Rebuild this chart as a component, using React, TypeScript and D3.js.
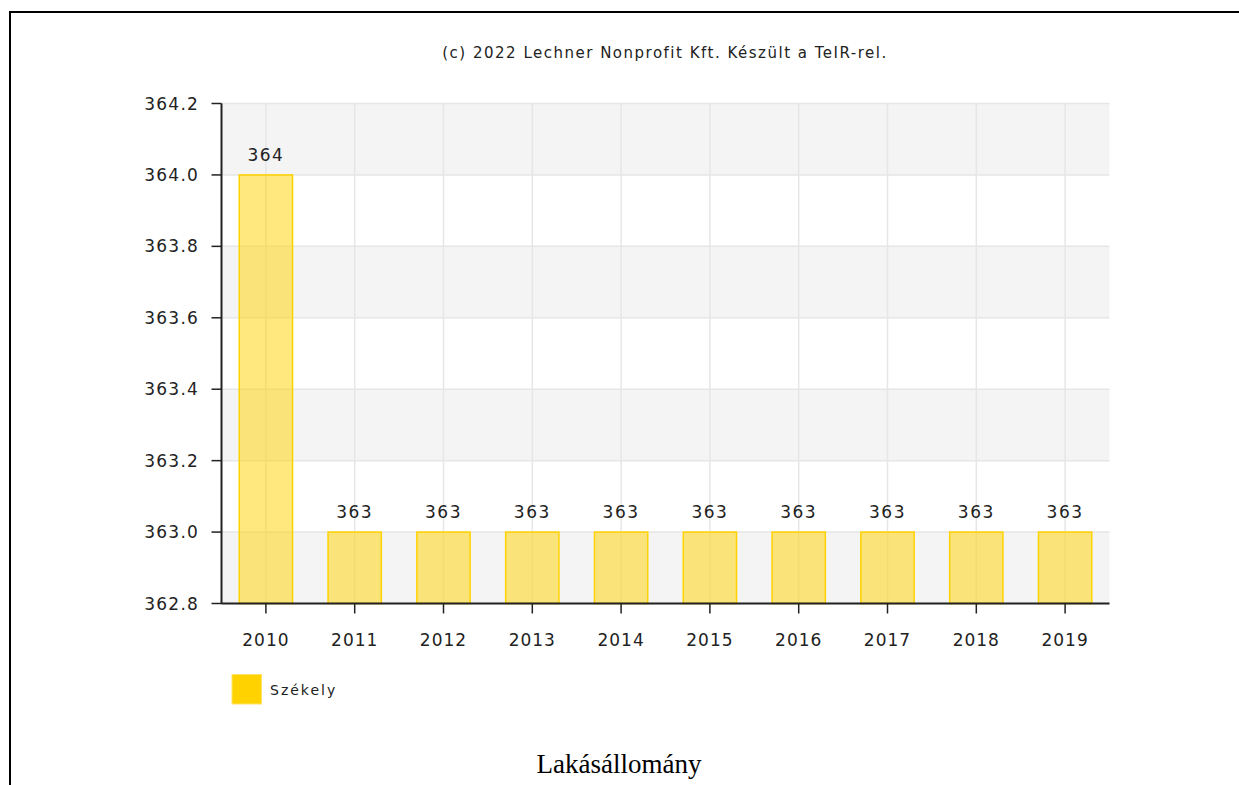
import React from "react";
import * as d3 from "d3";

const years = ["2010", "2011", "2012", "2013", "2014", "2015", "2016", "2017", "2018", "2019"];
const values = [364, 363, 363, 363, 363, 363, 363, 363, 363, 363];
const yTicks = [362.8, 363.0, 363.2, 363.4, 363.6, 363.8, 364.0, 364.2];
const seriesName = "Székely";
const credit = "(c) 2022 Lechner Nonprofit Kft. Készült a TeIR-rel.";
const title = "Lakásállomány";

const W = 1239;
const H = 785;
const left = 221.5;
const right = 1109.5;
const top = 103.5;
const bottom = 603.5;
const font = "'DejaVu Sans', Verdana, sans-serif";

export default function App() {
  const x = d3.scaleBand<string>().domain(years).range([left, right]).paddingInner(0.4).paddingOuter(0.2);
  const y = d3.scaleLinear().domain([362.8, 364.2]).range([bottom, top]);
  const bands = yTicks.slice(0, -1).map((t, i) => ({ t0: t, t1: yTicks[i + 1], i }));
  const centers = years.map((yr) => (x(yr) as number) + x.bandwidth() / 2);

  return (
    <div style={{ position: "absolute", left: 0, top: 0 }}>
      <svg width={W} height={H} style={{ display: "block" }}>
        <rect x={0} y={0} width={W} height={H} fill="#fff" />
        {/* outer frame */}
        <line x1={10} y1={12} x2={W} y2={12} stroke="#000" strokeWidth={2} />
        <line x1={10} y1={11} x2={10} y2={H} stroke="#000" strokeWidth={2} />

        <text x={665} y={58} textAnchor="middle" fontFamily={font} fontSize={15} letterSpacing={1.5} fill="#222">
          {credit}
        </text>

        {/* alternating bands */}
        {bands.map((b) => (
          <rect
            key={b.i}
            x={left}
            y={y(b.t1)}
            width={right - left}
            height={y(b.t0) - y(b.t1)}
            fill={b.i % 2 === 0 ? "#f4f4f4" : "#ffffff"}
          />
        ))}
        {/* horizontal grid */}
        {yTicks.map((t) => (
          <line key={t} x1={left} x2={right} y1={y(t)} y2={y(t)} stroke="#e6e6e6" strokeWidth={1.5} />
        ))}
        {/* vertical grid */}
        {centers.map((c, i) => (
          <line key={i} x1={c} x2={c} y1={top} y2={bottom} stroke="#e6e6e6" strokeWidth={1.5} />
        ))}

        {/* bars */}
        {years.map((yr, i) => (
          <rect
            key={yr}
            x={x(yr)}
            y={y(values[i])}
            width={x.bandwidth()}
            height={bottom - y(values[i])}
            fill="rgba(255,212,0,0.5)"
            stroke="#ffd200"
            strokeWidth={1.5}
          />
        ))}
        {/* value labels */}
        {years.map((yr, i) => (
          <text
            key={yr}
            x={centers[i]}
            y={y(values[i]) - 14}
            textAnchor="middle"
            fontFamily={font}
            fontSize={17}
            letterSpacing={1.5}
            fill="#222"
          >
            {d3.format("d")(values[i])}
          </text>
        ))}

        {/* axes */}
        <line x1={left} x2={left} y1={top} y2={bottom + 0.5} stroke="#222" strokeWidth={2} />
        <line x1={left} x2={right} y1={bottom} y2={bottom} stroke="#222" strokeWidth={2} />
        {yTicks.map((t) => (
          <g key={t}>
            <line x1={left - 10} x2={left} y1={y(t)} y2={y(t)} stroke="#222" strokeWidth={1.5} />
            <text x={199} y={y(t) + 6} textAnchor="end" fontFamily={font} fontSize={17} letterSpacing={1.2} fill="#222">
              {d3.format(".1f")(t)}
            </text>
          </g>
        ))}
        {centers.map((c, i) => (
          <g key={i}>
            <line x1={c} x2={c} y1={bottom} y2={bottom + 10} stroke="#222" strokeWidth={1.5} />
            <text x={c} y={646} textAnchor="middle" fontFamily={font} fontSize={17} letterSpacing={1} fill="#222">
              {years[i]}
            </text>
          </g>
        ))}

        {/* legend */}
        <rect x={232} y={674.5} width={29.5} height={29.5} fill="#ffd200" stroke="#ffe46a" strokeWidth={1} />
        <text x={270} y={695} fontFamily={font} fontSize={14} letterSpacing={2} fill="#222">
          {seriesName}
        </text>

        <text x={619} y={773} textAnchor="middle" fontFamily="'Liberation Serif', 'Times New Roman', serif" fontSize={27} fill="#000">
          {title}
        </text>
      </svg>
    </div>
  );
}
